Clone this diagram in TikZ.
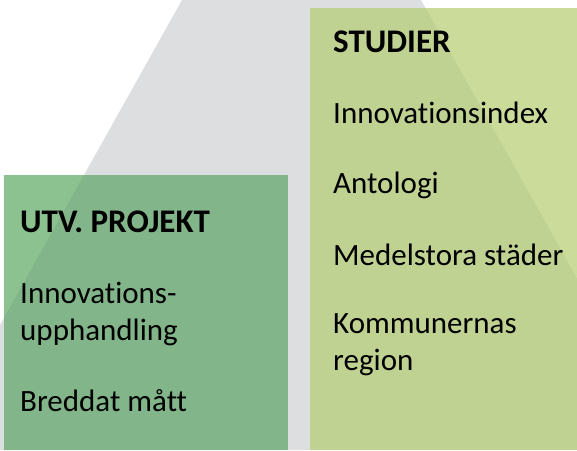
\documentclass[tikz,border=0pt]{standalone}
\usepackage{fontspec}
\setmainfont{Carlito}[Ligatures={NoCommon}]
\definecolor{graybg}{HTML}{DDDEE0}
\definecolor{leftlight}{HTML}{8CC28F}
\definecolor{leftdark}{HTML}{82B589}
\definecolor{rightlight}{HTML}{CADB9A}
\definecolor{rightdark}{HTML}{BFD292}
\tikzset{
  head/.style={anchor=base west, inner sep=0pt, font=\fontsize{33}{37}\selectfont\bfseries},
  item/.style={anchor=base west, inner sep=0pt, font=\fontsize{31}{37}\selectfont, align=left},
}
\begin{document}
\begin{tikzpicture}[x=1pt,y=-1pt]
\useasboundingbox (0,0) rectangle (577,450);
\clip (0,0) rectangle (577,450);
\def\trap{(182,0) -- (421,0) -- (673,450) -- (-70,450) -- cycle}
\fill[graybg] \trap;
% left box
\fill[leftlight] (4,175) rectangle (288,450);
\begin{scope}
  \clip \trap;
  \fill[leftdark] (4,175) rectangle (288,450);
\end{scope}
% right box
\fill[rightlight] (310,8) rectangle (577,450);
\begin{scope}
  \clip \trap;
  \fill[rightdark] (310,8) rectangle (577,450);
\end{scope}
% right texts
\node[head] (studier) at (333,52) {STUDIER};
\node[item] (idx) at (333,123) {Innovationsindex};
\node[item] (anto) at (333,193) {Antologi};
\node[item] (medel) at (333,265) {Medelstora städer};
\node[item] (komm) at (333,333) {Kommunernas};
\node[item] (reg) at (333,370) {region};
% left texts
\node[head] (utv) at (20,232) {UTV. PROJEKT};
\node[item] (innov) at (20,303) {Innovations-};
\node[item] (upph) at (20,340) {upphandling};
\node[item] (bredd) at (20,411) {Breddat mått};
\end{tikzpicture}
\end{document}
